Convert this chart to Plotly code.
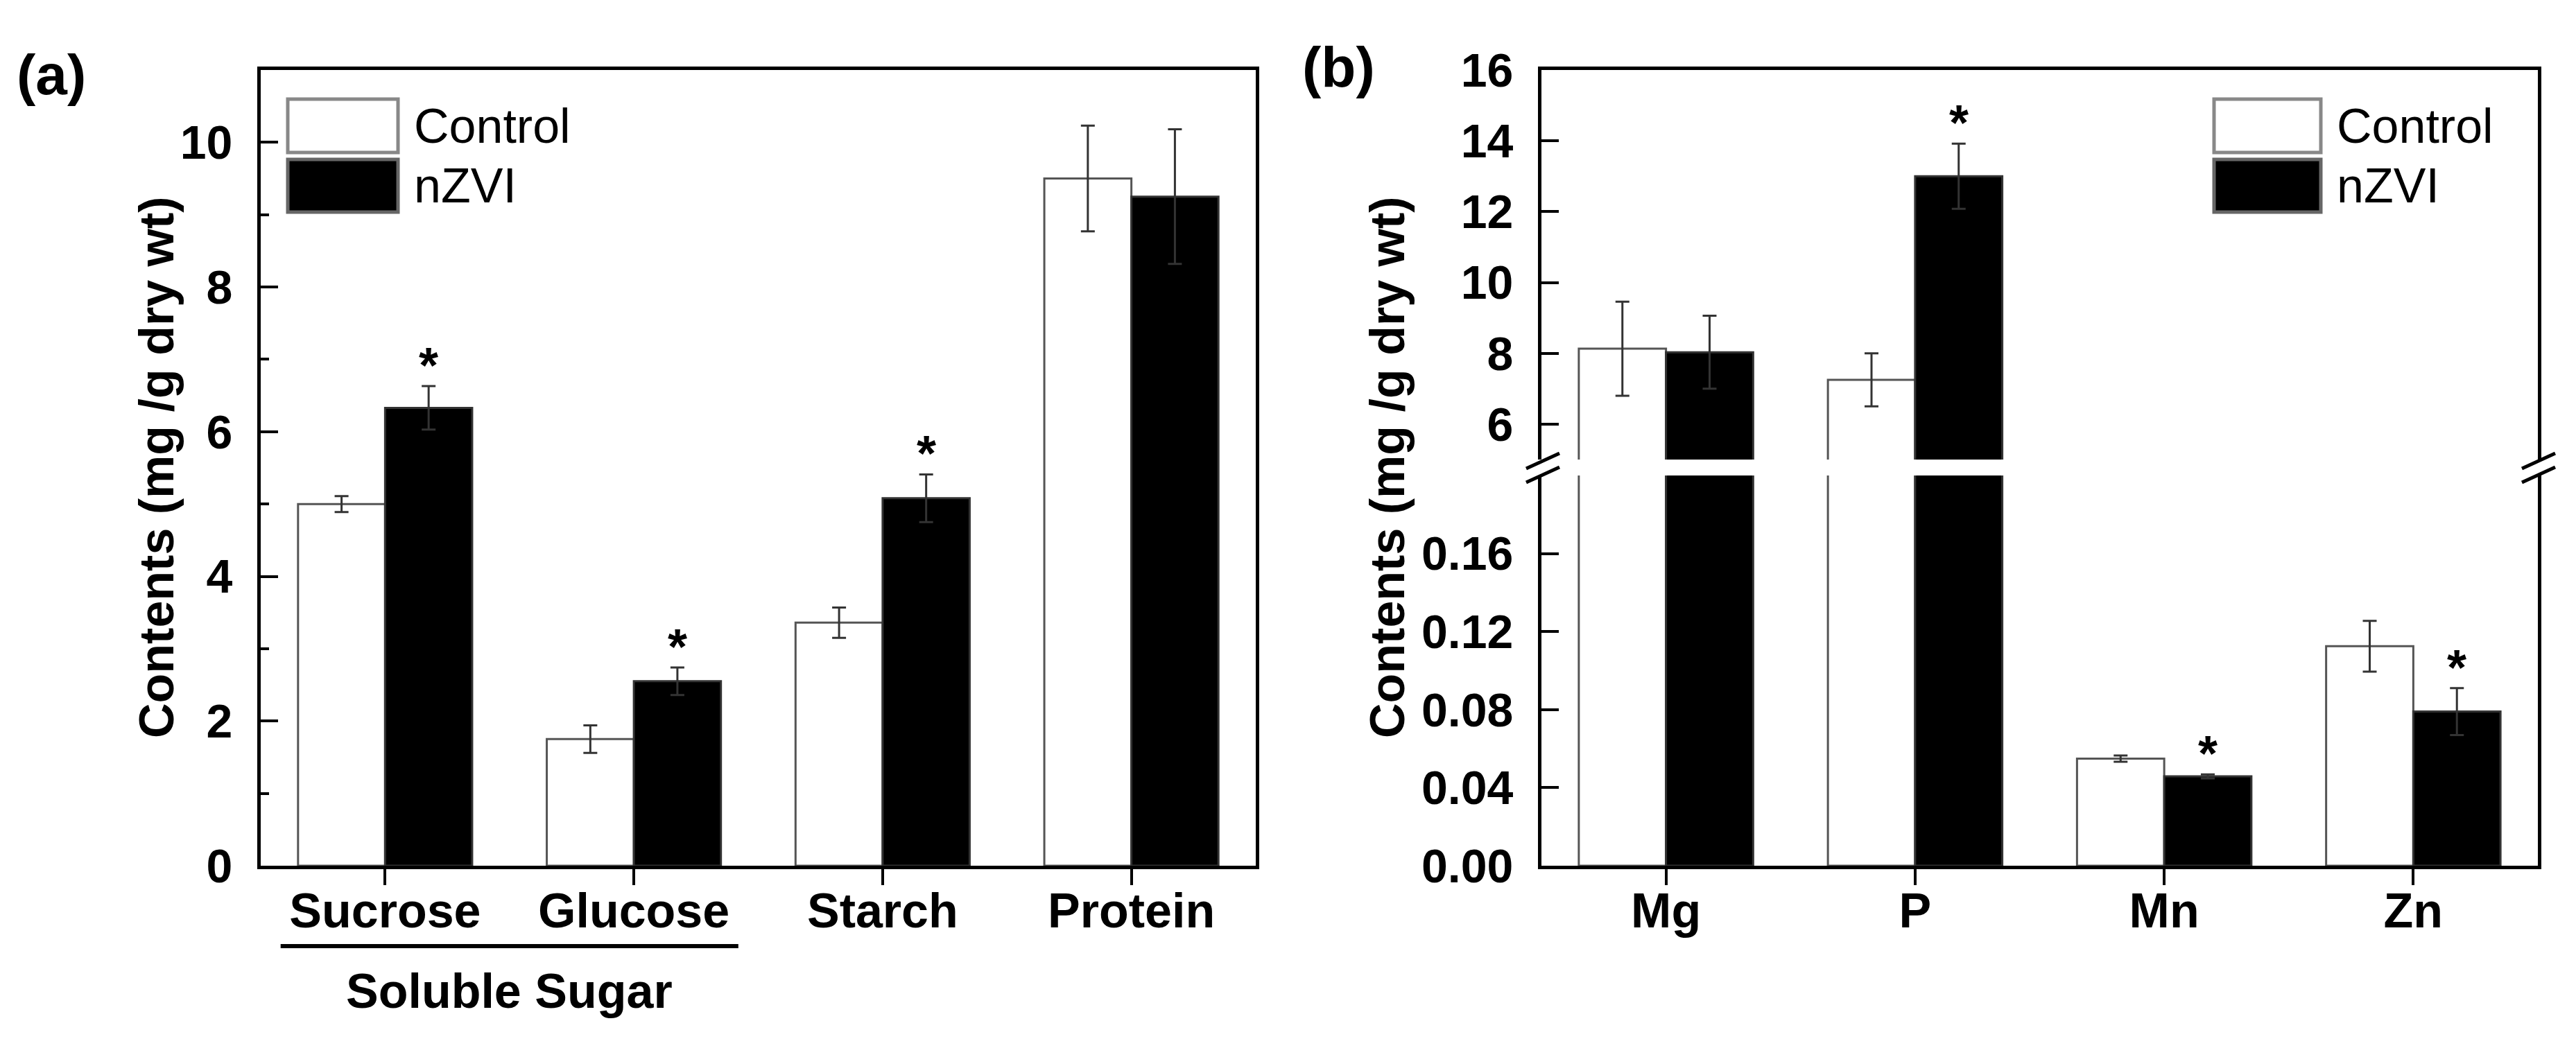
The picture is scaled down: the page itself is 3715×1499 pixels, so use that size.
import plotly.graph_objects as go

W, H = 3715, 1499

# panel (a)
sugar_cats = ["Sucrose", "Glucose", "Starch", "Protein"]
sugar_control = [5.0, 1.75, 3.36, 9.5]
sugar_control_err = [0.11, 0.19, 0.21, 0.73]
sugar_nzvi = [6.33, 2.55, 5.08, 9.25]
sugar_nzvi_err = [0.30, 0.19, 0.33, 0.93]
sugar_sig = [True, True, True, False]

# panel (b)
elem_cats = ["Mg", "P", "Mn", "Zn"]
elem_control = [8.13, 7.25, 0.0549, 0.1125]
elem_control_err = [1.33, 0.75, 0.0016, 0.013]
elem_nzvi = [8.03, 13.0, 0.0458, 0.079]
elem_nzvi_err = [1.03, 0.92, 0.001, 0.012]
elem_sig = [False, True, True, True]

y_ticks_a = [0, 2, 4, 6, 8, 10]
y_ticks_top = [6, 8, 10, 12, 14, 16]
y_ticks_low = [0.0, 0.04, 0.08, 0.12, 0.16]

FONT = "Liberation Sans, Arial, sans-serif"
BAR_W = 0.35


def px(x):
    return x / W


def py(y):
    return 1 - y / H


def bold(size):
    return dict(size=size, family=FONT, color="black", weight="bold")


def bars(fig, cats, ctrl, ctrl_err, nz, nz_err, xa, ya):
    eb = dict(type="data", color="#333333", thickness=3, width=10)
    fig.add_trace(go.Bar(x=cats, y=ctrl, error_y=dict(array=ctrl_err, **eb),
                         marker=dict(color="white", line=dict(color="#555555", width=3)),
                         xaxis=xa, yaxis=ya, showlegend=False))
    fig.add_trace(go.Bar(x=cats, y=nz, error_y=dict(array=nz_err, **eb),
                         marker=dict(color="black", line=dict(color="#333333", width=3)),
                         xaxis=xa, yaxis=ya, showlegend=False))


fig = go.Figure()

bars(fig, sugar_cats, sugar_control, sugar_control_err, sugar_nzvi, sugar_nzvi_err, "x", "y")
# right panel: lower and upper segment of the broken axis
bars(fig, elem_cats, elem_control, elem_control_err, elem_nzvi, elem_nzvi_err, "x2", "y2")
bars(fig, elem_cats, elem_control, elem_control_err, elem_nzvi, elem_nzvi_err, "x3", "y3")

ax_common = dict(showline=True, linecolor="black", linewidth=5, showgrid=False,
                 zeroline=False, automargin=False, tickfont=bold(68))
xcat = dict(ax_common, ticks="outside", ticklen=23, tickwidth=4, tickcolor="black",
            range=[-0.5, 3.5], tickfont=bold(70), ticklabelstandoff=-23)
ytk = dict(ticks="inside", ticklen=25, tickwidth=4, tickcolor="black", ticklabelstandoff=22)

top_a, bot_a = py(93), py(1241)
brk_hi, brk_lo = py(655), py(678)
xa_dom = [px(368), px(1803)]
xb_dom = [px(2215), px(3652)]

fig.update_layout(
    template="none",
    width=W, height=H,
    margin=dict(l=0, r=0, t=0, b=0, pad=0),
    paper_bgcolor="white", plot_bgcolor="white",
    barmode="group", bargap=0.3, bargroupgap=0,
    showlegend=False,
    font=dict(family=FONT, color="black"),
    xaxis=dict(xcat, domain=xa_dom, anchor="y", mirror=True),
    yaxis=dict(ax_common, domain=[bot_a, top_a], anchor="x", range=[0, 11], mirror=True,
               tickvals=y_ticks_a, **ytk,
               minor=dict(ticks="inside", ticklen=12, tickwidth=4, tickcolor="black", dtick=1)),
    xaxis2=dict(xcat, domain=xb_dom, anchor="y2"),
    yaxis2=dict(ax_common, domain=[bot_a, brk_lo], anchor="x2", range=[0, 0.2], mirror=True,
                tickvals=y_ticks_low, tickformat=".2f", **ytk),
    xaxis3=dict(ax_common, domain=xb_dom, anchor="y3", side="top", range=[-0.5, 3.5],
                ticks="", showticklabels=False),
    yaxis3=dict(ax_common, domain=[brk_hi, top_a], anchor="x3", range=[5, 16], mirror=True,
                tickvals=y_ticks_top, **ytk),
)

ann = []
shapes = []

# significance stars above the nZVI bars
for i, s in enumerate(sugar_sig):
    if s:
        ann.append(dict(x=i + BAR_W / 2, y=sugar_nzvi[i] + sugar_nzvi_err[i], xref="x", yref="y",
                        text="*", showarrow=False, xanchor="center", yanchor="bottom",
                        yshift=-12, font=bold(72)))
for i, s in enumerate(elem_sig):
    if s:
        top = elem_nzvi[i] + elem_nzvi_err[i]
        ann.append(dict(x=i + BAR_W / 2, y=top, xref="x2", yref="y3" if top > 5 else "y2",
                        text="*", showarrow=False, xanchor="center", yanchor="bottom",
                        yshift=-12, font=bold(72)))

# axis titles
for xc in (218, 1993):
    ann.append(dict(x=px(xc), y=py(666), xref="paper", yref="paper", textangle=-90,
                    text="Contents (mg /g dry wt)", showarrow=False,
                    xanchor="center", yanchor="middle", font=bold(70)))

# panel letters
ann.append(dict(x=px(14), y=py(100), xref="paper", yref="paper", text="(a)",
                showarrow=False, xanchor="left", yanchor="middle", font=bold(82)))
ann.append(dict(x=px(1868), y=py(88), xref="paper", yref="paper", text="(b)",
                showarrow=False, xanchor="left", yanchor="middle", font=bold(82)))

# soluble sugar bracket
shapes.append(dict(type="line", xref="x", yref="paper", x0=-0.42, x1=1.42,
                   y0=py(1357), y1=py(1357), line=dict(color="black", width=6)))
ann.append(dict(x=0.5, y=py(1422), xref="x", yref="paper", text="Soluble Sugar",
                showarrow=False, xanchor="center", yanchor="middle", font=bold(70)))

# legends drawn as boxes
legend_pos = [(407, 566, 587), (3185, 3339, 3360)]
legend_rows = [("Control", "white", "#888888", 135, 212), ("nZVI", "black", "#666666", 222, 298)]
for x0, x1, xt in legend_pos:
    for name, fill, edge, y0, y1 in legend_rows:
        shapes.append(dict(type="rect", xref="paper", yref="paper", x0=px(x0), x1=px(x1),
                           y0=py(y1), y1=py(y0), fillcolor=fill, line=dict(color=edge, width=5)))
        ann.append(dict(x=px(xt), y=py((y0 + y1) / 2), xref="paper", yref="paper", text=name,
                        showarrow=False, xanchor="left", yanchor="middle",
                        font=dict(size=70, family=FONT, color="black")))

# axis break marks
for xb in (2217, 3653):
    for yb in (657, 677):
        shapes.append(dict(type="line", xref="paper", yref="paper", x0=px(xb - 24),
                           y0=py(yb + 11), x1=px(xb + 24), y1=py(yb - 11),
                           line=dict(color="black", width=5)))

fig.update_layout(annotations=ann, shapes=shapes)
fig.write_html("out.html")
